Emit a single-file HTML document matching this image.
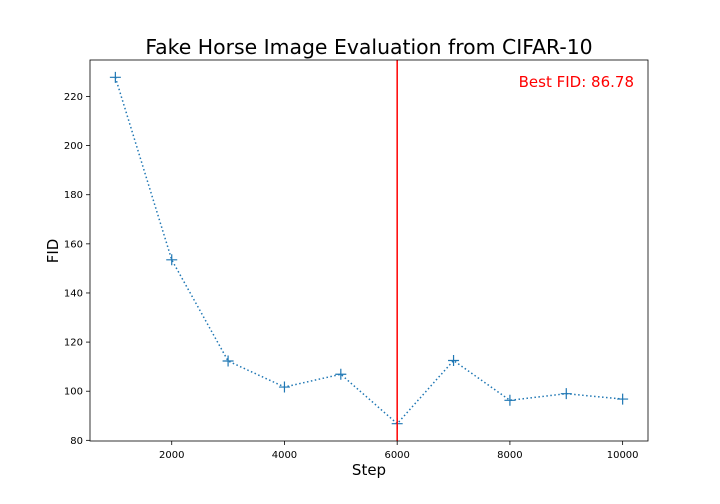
<!DOCTYPE html>
<html><head><meta charset="utf-8"><style>body{margin:0;background:#fff}svg{display:block;font-family:"DejaVu Sans","Liberation Sans",sans-serif}</style></head>
<body>
<svg id="chart" width="720" height="504" viewBox="0 0 720 504" xmlns="http://www.w3.org/2000/svg">
<text x="369" y="54" text-anchor="middle" font-size="20.4">Fake Horse Image Evaluation from CIFAR-10</text>
<text x="369" y="475" text-anchor="middle" font-size="15">Step</text>
<text transform="translate(58,251) rotate(-90)" text-anchor="middle" font-size="15">FID</text>
<g id="plot"></g>
<text x="634" y="87" text-anchor="end" font-size="15" fill="#ff0000">Best FID: 86.78</text>
</svg>
<script>
const steps=[1000,2000,3000,4000,5000,6000,7000,8000,9000,10000];
const fid=[227.8,153.5,112.3,101.7,106.9,86.78,112.5,96.3,99.0,96.8];
const xTicks=[2000,4000,6000,8000,10000];
const yTicks=[80,100,120,140,160,180,200,220];
const bestStep=6000;
const L=90,R=648,T=60,B=441;
const xmin=550,xmax=10450,ymin=79.73,ymax=234.85;
const X=v=>L+(v-xmin)/(xmax-xmin)*(R-L);
const Y=v=>B-(v-ymin)/(ymax-ymin)*(B-T);
const g=document.getElementById('plot');
const ns='http://www.w3.org/2000/svg';
function mk(t,a){const e=document.createElementNS(ns,t);for(const k in a)e.setAttribute(k,a[k]);g.appendChild(e);return e;}
xTicks.forEach(v=>{
 const l=mk('line',{x1:X(v),x2:X(v),y1:B,y2:B+4,stroke:'#000','stroke-width':0.8});
 
 
 const t=mk('text',{x:X(v),y:B+17,'text-anchor':'middle','font-size':10});t.textContent=v;
 
 
});
yTicks.forEach(v=>{
 const l=mk('line',{x1:L-4,x2:L,y1:Y(v),y2:Y(v),stroke:'#000','stroke-width':0.8});
 
 
 const t=mk('text',{x:L-7,y:Y(v)+3.5,'text-anchor':'end','font-size':10});t.textContent=v;
 
 
});
const line=mk('polyline',{points:steps.map((s,i)=>X(s)+','+Y(fid[i])).join(' '),fill:'none',stroke:'#1f77b4','stroke-width':1.5,'stroke-dasharray':'1.5,2.5'});


steps.forEach((s,i)=>{
 const m=mk('path',{d:`M${X(s)-5.5},${Y(fid[i])}h11M${X(s)},${Y(fid[i])-5.5}v11`,stroke:'#1f77b4','stroke-width':1.2});
 
 
});
const bl=mk('line',{x1:X(bestStep),x2:X(bestStep),y1:T,y2:B,stroke:'#ff0000','stroke-width':1.5});


const fr=mk('rect',{x:L,y:T,width:R-L,height:B-T,fill:'none',stroke:'#000','stroke-width':0.8});


</script>
</body></html>
